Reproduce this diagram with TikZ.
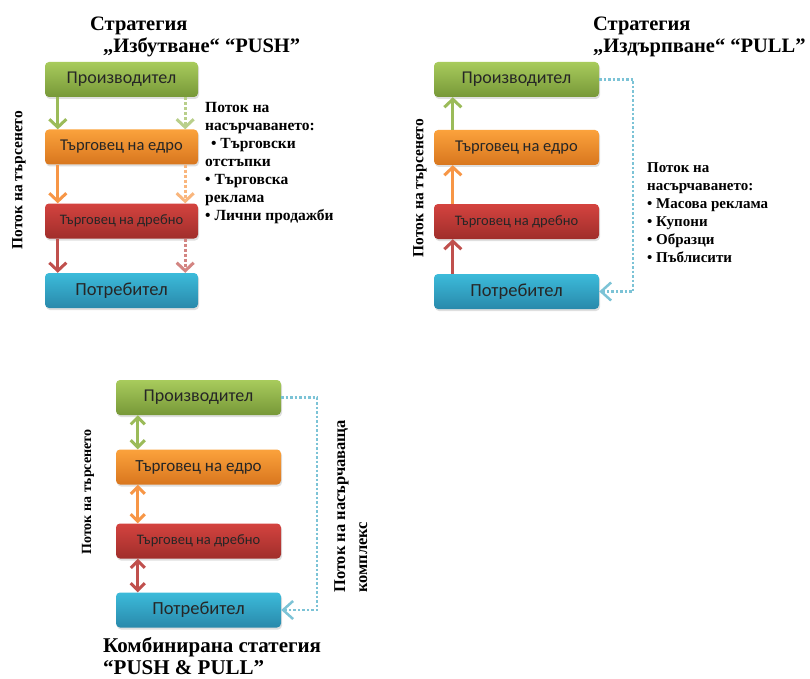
\documentclass[tikz,border=0pt]{standalone}
\usepackage{fontspec}
\setmainfont{Liberation Serif}
\newfontfamily\boxfont{Carlito}
\usetikzlibrary{arrows.meta,positioning,shadows,calc}
\definecolor{grtop}{HTML}{A8CB5C}
\definecolor{grbot}{HTML}{779838}
\definecolor{ortop}{HTML}{FBA23C}
\definecolor{orbot}{HTML}{D8761E}
\definecolor{rdtop}{HTML}{D4433F}
\definecolor{rdbot}{HTML}{A02E2B}
\definecolor{bltop}{HTML}{3CBBDA}
\definecolor{blbot}{HTML}{2989AB}
\definecolor{grarr}{HTML}{9BBB59}
\definecolor{orarr}{HTML}{F79646}
\definecolor{rdarr}{HTML}{C0504D}
\definecolor{blarr}{HTML}{7CC3D6}
\tikzset{
    stage/.style={rounded corners=4pt, minimum height=35pt, inner sep=0pt, text=black!85,
        drop shadow={opacity=0.25, shadow xshift=1pt, shadow yshift=-2pt}},
    prod/.style={stage, top color=grtop, bottom color=grbot, font=\boxfont\fontsize{18}{20}\selectfont},
    whole/.style={stage, top color=ortop, bottom color=orbot, font=\boxfont\fontsize{16.5}{18}\selectfont},
    retail/.style={stage, top color=rdtop, bottom color=rdbot, font=\boxfont\fontsize{14.5}{16}\selectfont},
    cons/.style={stage, top color=bltop, bottom color=blbot, font=\boxfont\fontsize{18.5}{20}\selectfont},
    flow/.style={line width=3pt, -{Straight Barb[length=8pt, width=17pt]}},
    promo/.style={flow, dotted},
    both/.style={line width=3pt, {Straight Barb[length=7pt, width=14pt]}-{Straight Barb[length=7pt, width=14pt]}},
    pullline/.style={line width=2.5pt, blarr, dotted, -{Straight Barb[length=10pt, width=18pt]}},
    label/.style={font=\bfseries\fontsize{15.5}{18}\selectfont, align=left, inner sep=0pt},
    title/.style={font=\bfseries\fontsize{20.5}{22}\selectfont, align=left, inner sep=0pt}
}
\begin{document}
\begin{tikzpicture}[x=1pt, y=-1pt]
\useasboundingbox[fill=white] (0,0) rectangle (810,679);

% push
\node[title, anchor=base west] (t1) at (90,53) {Стратегия\\\hspace*{13pt}„Избутване“ “PUSH”};
\node[prod, minimum width=153pt] (m1) at (121.5,79.5) {Производител};
\node[whole, minimum width=153pt] (w1) at (121.5,147) {Търговец на едро};
\node[retail, minimum width=153pt] (r1) at (121.5,221) {Търговец на дребно};
\node[cons, minimum width=153pt] (c1) at (121.5,290.5) {Потребител};
\draw[flow, grarr] ([xshift=13pt]m1.south west) -- ([xshift=13pt]w1.north west);
\draw[flow, orarr] ([xshift=13pt]w1.south west) -- ([xshift=13pt]r1.north west);
\draw[flow, rdarr] ([xshift=13pt]r1.south west) -- ([xshift=13pt]c1.north west);
\draw[promo, grarr!70] ([xshift=-13pt]m1.south east) -- ([xshift=-13pt]w1.north east);
\draw[promo, orarr!70] ([xshift=-13pt]w1.south east) -- ([xshift=-13pt]r1.north east);
\draw[promo, rdarr!70] ([xshift=-13pt]r1.south east) -- ([xshift=-13pt]c1.north east);
\node[label, rotate=90] (d1) at (19,180) {Поток на търсенето};
\node[label, anchor=north west] (p1) at (205,102) {Поток на\\насърчаването:\\\hspace*{6pt}• Търговски\\отстъпки\\• Търговска\\реклама\\• Лични продажби};

% pull
\node[title, anchor=base west] (t2) at (593,53) {Стратегия\\„Издърпване“ “PULL”};
\node[prod, minimum width=165pt] (m2) at (516.5,79.5) {Производител};
\node[whole, minimum width=165pt] (w2) at (516.5,147.5) {Търговец на едро};
\node[retail, minimum width=165pt] (r2) at (516.5,221.5) {Търговец на дребно};
\node[cons, minimum width=165pt] (c2) at (516.5,291.5) {Потребител};
\draw[flow, grarr] ([xshift=19pt]w2.north west) -- ([xshift=19pt]m2.south west);
\draw[flow, orarr] ([xshift=19pt]r2.north west) -- ([xshift=19pt]w2.south west);
\draw[flow, rdarr] ([xshift=19pt]c2.north west) -- ([xshift=19pt]r2.south west);
\draw[pullline] (m2.east) -- ++(34,0) |- (c2.east);
\node[label, rotate=90] (d2) at (420,188) {Поток на търсенето};
\node[label, anchor=north west, font=\bfseries\fontsize{15}{18}\selectfont] (p2) at (647,162) {Поток на\\насърчаването:\\• Масова реклама\\• Купони\\• Образци\\• Пъблисити};

% push & pull
\node[prod, minimum width=165pt] (m3) at (198.5,397.5) {Производител};
\node[whole, minimum width=165pt, font=\boxfont\fontsize{17}{18}\selectfont] (w3) at (198.5,467) {Търговец на едро};
\node[retail, minimum width=165pt] (r3) at (198.5,541) {Търговец на дребно};
\node[cons, minimum width=165pt] (c3) at (198.5,610) {Потребител};
\draw[both, grarr] ([xshift=22pt]m3.south west) -- ([xshift=22pt]w3.north west);
\draw[both, orarr] ([xshift=22pt]w3.south west) -- ([xshift=22pt]r3.north west);
\draw[both, rdarr] ([xshift=22pt]r3.south west) -- ([xshift=22pt]c3.north west);
\draw[pullline] (m3.east) -- ++(36,0) |- (c3.east);
\node[label, rotate=90, font=\bfseries\fontsize{14}{16}\selectfont] (d3) at (88,492) {Поток на търсенето};
\node[label, rotate=90, anchor=north west, font=\bfseries\fontsize{16.5}{22}\selectfont] (p3) at (334,593) {Поток на насърчаваща\\комплекс};
\node[title, anchor=base west, font=\bfseries\fontsize{21}{22}\selectfont] (t3) at (103,674) {Комбинирана статегия\\“PUSH \& PULL”};
\end{tikzpicture}
\end{document}
